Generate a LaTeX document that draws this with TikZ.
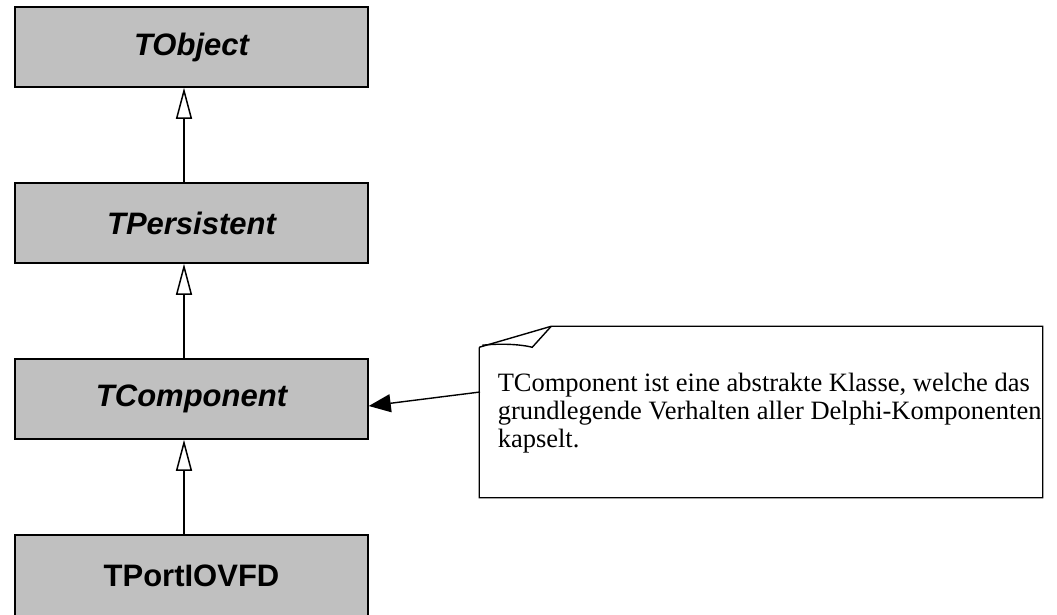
\documentclass[tikz,border=0pt]{standalone}
\usepackage{fontspec}
\setmainfont{Liberation Serif}
\newfontfamily\umlsans{Liberation Sans}
\usetikzlibrary{arrows.meta}
\definecolor{classgray}{HTML}{C0C0C0}
\begin{document}
\begin{tikzpicture}[x=1pt,y=-1pt,line width=1.5pt,
  classbox/.style={draw=black,fill=classgray,minimum width=353pt,minimum height=80pt,
    inner sep=0pt,font=\umlsans\fontsize{31}{34}\selectfont\bfseries},
  abstractbox/.style={classbox,font=\umlsans\fontsize{31}{34}\selectfont\bfseries\itshape},
  inherit/.style={-{Triangle[open,length=31pt,width=16pt]}},
  notelink/.style={-{Triangle[length=22pt,width=18pt]}}]
\useasboundingbox (0,0) rectangle (1057,614);

% class hierarchy
\node[abstractbox] (obj)  at (191.5,47)  {TObject};
\node[abstractbox] (pers) at (191.5,223) {TPersistent};
\node[abstractbox] (comp) at (191.5,399) {TComponent};
\node[classbox,minimum height=82pt] (port) at (191.5,576) {TPortIOVFD};

\draw[inherit] ([xshift=-7.5pt]pers.north) -- ([xshift=-7.5pt]obj.south);
\draw[inherit] ([xshift=-7.5pt]comp.north) -- ([xshift=-7.5pt]pers.south);
\draw[inherit] ([xshift=-7.5pt]port.north) -- ([xshift=-7.5pt]comp.south);

% note with folded corner
\node[minimum width=562pt,minimum height=170pt,inner sep=0pt] (note) at (761,412) {};
\draw[line width=1.4pt,line join=miter]
  (note.north west) ++(0,21) coordinate (ncorner)
  -- (note.south west) -- (note.south east) -- (note.north east)
  -- ([xshift=72pt]note.north west) coordinate (nfold)
  -- (ncorner);
\draw[line width=1.4pt] (nfold) -- ++(-19,21) coordinate (nfoldin)
  .. controls ++(-12,-3) and ++(18,-2) .. ++(-50,-2);
\node[anchor=north west,align=left,inner sep=0pt,
  font=\fontsize{26.5}{28}\selectfont] (notetext) at (497,372)
  {TComponent ist eine abstrakte Klasse, welche das\\
   grundlegende Verhalten aller Delphi-Komponenten\\
   kapselt.};

\coordinate (notelinkstart) at (480,392);
\draw[notelink,line width=1.4pt] (notelinkstart) -- ([yshift=-7pt]comp.east);
\end{tikzpicture}
\end{document}
